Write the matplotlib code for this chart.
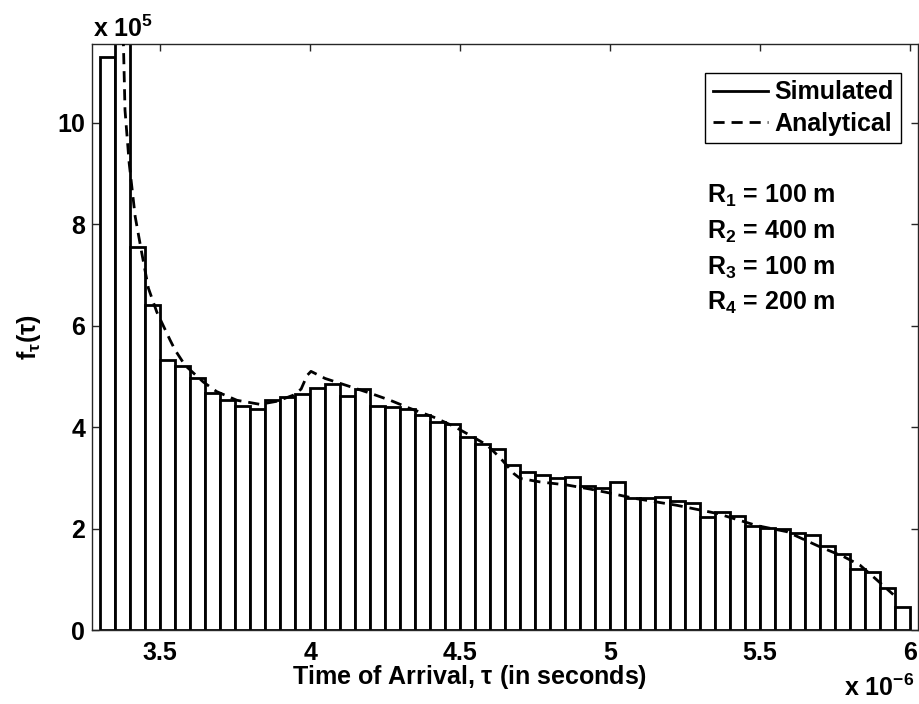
import numpy as np
import matplotlib
matplotlib.use("Agg")
import matplotlib.pyplot as plt
from matplotlib.lines import Line2D

plt.rcParams["font.family"] = ["Liberation Sans", "DejaVu Sans"]
plt.rcParams["font.weight"] = "bold"
plt.rcParams["mathtext.fontset"] = "custom"
plt.rcParams["mathtext.rm"] = "Liberation Sans:bold"
plt.rcParams["mathtext.bf"] = "Liberation Sans:bold"
plt.rcParams["mathtext.it"] = "Liberation Sans:bold:italic"

# histogram of simulated time of arrival (x in 1e-6 s, y in 1e5)
BIN_START = 3.30
BIN_WIDTH = 0.05
SIM_HEIGHTS = [
    11.30, 13.50, 7.56, 6.40, 5.32, 5.20, 4.97, 4.67, 4.53, 4.42,
    4.35, 4.53, 4.59, 4.65, 4.78, 4.86, 4.62, 4.76, 4.42, 4.40,
    4.36, 4.24, 4.11, 4.07, 3.81, 3.67, 3.57, 3.25, 3.12, 3.06,
    2.99, 3.02, 2.84, 2.81, 2.91, 2.60, 2.61, 2.62, 2.54, 2.50,
    2.23, 2.32, 2.25, 2.06, 2.01, 2.00, 1.92, 1.88, 1.66, 1.50,
    1.20, 1.15, 0.83, 0.45,
]

# analytical pdf
ANA_T = [3.370, 3.378, 3.383, 3.397, 3.417, 3.439, 3.461, 3.489, 3.533, 3.550,
         3.583, 3.644, 3.689, 3.756, 3.833, 3.889, 3.944, 3.970, 3.990, 4.003,
         4.050, 4.133, 4.200, 4.267, 4.333, 4.411, 4.478, 4.533, 4.589, 4.633,
         4.680, 4.700, 4.767, 4.856, 4.933, 5.000, 5.078, 5.222, 5.356, 5.489,
         5.589, 5.700, 5.778, 5.833, 5.889, 5.944]
ANA_F = [12.50, 11.50, 10.25, 9.20, 8.15, 7.43, 6.74, 6.27, 5.72, 5.52,
         5.22, 4.89, 4.70, 4.53, 4.45, 4.51, 4.63, 4.75, 5.02, 5.10,
         4.96, 4.80, 4.67, 4.53, 4.37, 4.20, 4.02, 3.84, 3.65, 3.40,
         3.08, 2.99, 2.92, 2.86, 2.78, 2.70, 2.60, 2.46, 2.30, 2.06,
         1.94, 1.64, 1.45, 1.28, 0.99, 0.70]

RADII = [("1", 100), ("2", 400), ("3", 100), ("4", 200)]

edges = BIN_START + BIN_WIDTH * np.arange(len(SIM_HEIGHTS))

fig = plt.figure(figsize=(9.2, 7.04), dpi=100)
ax = fig.add_axes([0.100, 0.105, 0.898, 0.833])

ax.bar(edges, SIM_HEIGHTS, width=BIN_WIDTH, align="edge",
       facecolor="white", edgecolor="black", lw=2.0, zorder=2)
ax.plot(ANA_T, ANA_F, color="black", lw=2.0, dashes=(4, 2.5), zorder=3)

ax.set_xlim(3.273, 6.027)
ax.set_ylim(0, 11.56)
ax.set_xticks([3.5, 4, 4.5, 5, 5.5, 6])
ax.set_xticklabels(["3.5", "4", "4.5", "5", "5.5", "6"])
ax.set_yticks([0, 2, 4, 6, 8, 10])
ax.tick_params(direction="in", length=5, width=1.0, color="#262626",
               top=True, right=True, labelsize=18)
ax.tick_params(axis="x", pad=8)
ax.tick_params(axis="y", pad=5)
for sp in ax.spines.values():
    sp.set_linewidth(1.0)
    sp.set_color("#262626")

# labels and scale factors
fig.text(470 / 920, 1 - 677 / 704, r"Time of Arrival, $\mathrm{\tau}$ (in seconds)",
         fontsize=18, ha="center", va="center")
fig.text(29 / 920, 0.5 * (1 - 43.5 / 704 + 1 - 630 / 704),
         r"f$_\mathrm{\tau}$($\mathrm{\tau}$)",
         fontsize=18, rotation=90, ha="center", va="center")
fig.text(93 / 920, 1 - 37 / 704, r"x 10$^{5}$", fontsize=18,
         ha="left", va="baseline")
fig.text(914 / 920, 1 - 696 / 704, r"x 10$^{-6}$", fontsize=18,
         ha="right", va="baseline")

handles = [Line2D([], [], color="black", lw=2.0),
           Line2D([], [], color="black", lw=2.0, dashes=(4, 2.5))]
leg = ax.legend(handles, ["Simulated", "Analytical"], loc="upper right",
                bbox_to_anchor=(0.979, 0.950), borderaxespad=0, fontsize=18,
                handlelength=2.2, handletextpad=0.25, labelspacing=0.3,
                borderpad=0.3, fancybox=False, framealpha=1)
leg.get_frame().set_edgecolor("black")
leg.get_frame().set_linewidth(1.0)

for i, (idx, r) in enumerate(RADII):
    ax.text(0.7446, 0.728 - i * 0.0609, r"R$_{%s}$ = %d m" % (idx, r),
            transform=ax.transAxes, fontsize=18, ha="left", va="baseline")

fig.savefig("out.png", dpi=100)
